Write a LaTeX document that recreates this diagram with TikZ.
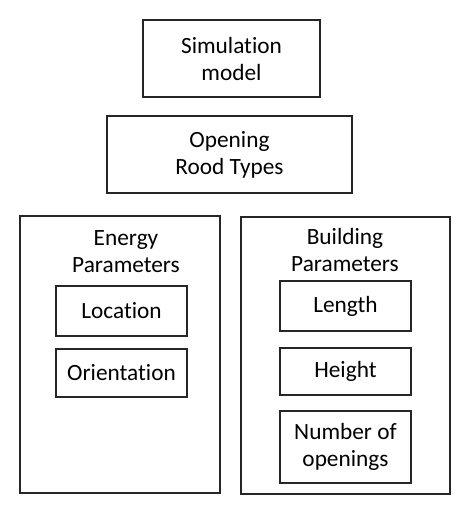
\documentclass[tikz,border=0pt]{standalone}
\usepackage{fontspec}
\setmainfont[Ligatures={NoCommon}]{Carlito}
\usepackage{tikz}
\usetikzlibrary{positioning}

\tikzset{
  box/.style={draw=black!85, line width=1.3pt, align=center, inner sep=0pt,
    font=\fontsize{23.3}{27}\selectfont},
  title/.style={align=center, inner sep=0pt, font=\fontsize{23.3}{27}\selectfont}
}

\begin{document}
\begin{tikzpicture}[x=1pt,y=-1pt]
\useasboundingbox (0,0) rectangle (474,512);
% top
\node[box, minimum width=177pt, minimum height=77pt] (sim) at (231.5,58.5) {Simulation\\model};
\node[box, minimum width=245pt, minimum height=77pt] (open) at (229.5,154.5) {Opening\\Rood Types};
% left group
\node[box, minimum width=200pt, minimum height=277pt] (energy) at (120,354.5) {};
\node[title] (energyT) at (126,252) {Energy\\Parameters};
\node[box, minimum width=131pt, minimum height=50pt] (loc) at (121.5,311) {Location};
\node[box, minimum width=131pt, minimum height=48pt] (orient) at (121.5,373) {Orientation};
% right group
\node[box, minimum width=209pt, minimum height=277pt] (building) at (345.5,355.5) {};
\node[title] (buildingT) at (345,250) {Building\\Parameters};
\node[box, minimum width=131pt, minimum height=50pt] (len) at (345.5,306) {Length};
\node[box, minimum width=131pt, minimum height=47pt] (height) at (345.5,371.5) {Height};
\node[box, minimum width=131pt, minimum height=72pt] (num) at (345.5,447) {Number of\\openings};
\end{tikzpicture}
\end{document}
